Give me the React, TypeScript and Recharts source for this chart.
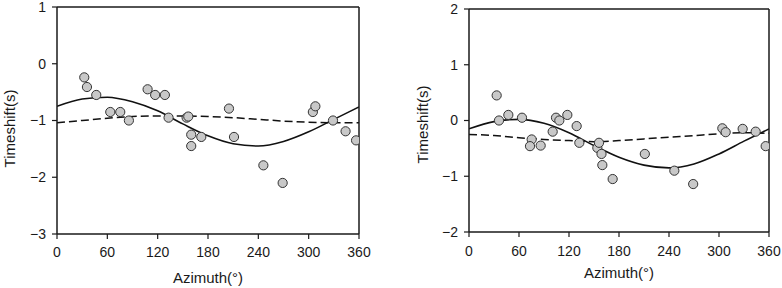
import React from 'react';
import { ComposedChart, Line, Scatter, XAxis, YAxis } from 'recharts';

// azimuth (deg) / timeshift (s) readings
const leftAz = [32.5, 35.7, 46.8, 63.5, 75.4, 85.7, 108, 117, 128.6, 133, 154.5, 156.5, 160, 160, 172, 205, 211, 246, 269, 305, 308, 329, 344, 356.5];
const leftShift = [-0.24, -0.41, -0.55, -0.85, -0.85, -1.0, -0.45, -0.55, -0.55, -0.95, -0.95, -0.93, -1.25, -1.45, -1.29, -0.79, -1.29, -1.79, -2.1, -0.85, -0.75, -1.0, -1.19, -1.35];

const rightAz = [33.2, 36, 47.2, 63.6, 75.2, 73.2, 86, 100.4, 104.4, 108.4, 118, 129.2, 132.4, 154, 156, 159, 160, 172.4, 211, 246.4, 269, 304, 308, 328.4, 344, 356];
const rightShift = [0.45, 0, 0.1, 0.05, -0.34, -0.46, -0.45, -0.2, 0.05, 0, 0.1, -0.1, -0.4, -0.49, -0.4, -0.6, -0.8, -1.05, -0.6, -0.9, -1.14, -0.14, -0.21, -0.15, -0.2, -0.46];

// fitted curves, read every 30 deg
const curveAz = [0, 30, 60, 90, 120, 150, 180, 210, 240, 270, 300, 330, 360];
const leftFit = [-0.75, -0.62, -0.59, -0.67, -0.83, -1.06, -1.27, -1.41, -1.45, -1.37, -1.2, -0.98, -0.76];
const leftFlat = [-1.04, -1.0, -0.96, -0.93, -0.92, -0.92, -0.93, -0.95, -0.98, -1.01, -1.03, -1.04, -1.04];
const rightFit = [-0.15, -0.02, 0.02, -0.05, -0.22, -0.45, -0.66, -0.8, -0.85, -0.78, -0.6, -0.37, -0.15];
const rightFlat = [-0.25, -0.27, -0.31, -0.34, -0.36, -0.38, -0.36, -0.33, -0.3, -0.27, -0.24, -0.22, -0.23];

const azTicks = [0, 60, 120, 180, 240, 300, 360];
const leftTicks = [-3, -2, -1, 0, 1];
const rightTicks = [-2, -1, 0, 1, 2];

const zip = (xs: number[], ys: number[]) => xs.map((az, i) => ({ az, v: ys[i] }));
const minus = (v: number) => String(v).replace('-', '\u2212');

const FONT = '"Liberation Sans", Arial, Helvetica, sans-serif';
const INK = '#1a1a1a';

const Dot = (p: any) => (
  <circle cx={p.cx} cy={p.cy} r={4.6} fill="#c8c8c8" stroke="#333" strokeWidth={1} />
);

interface PanelProps {
  pts: { az: number; v: number }[];
  fit: { az: number; v: number }[];
  flat: { az: number; v: number }[];
  domain: [number, number];
  ticks: number[];
  width: number;
  top: number;
  bottom: number;
  leftW: number;
  right: number;
  yLabelX: number;
  yLabelDy: number;
  xLabelY: number;
  xTickMargin: number;
}

const Panel: React.FC<PanelProps> = (p) => {
  const axisCommon = {
    axisLine: { stroke: INK, strokeWidth: 1.5 },
    tickLine: { stroke: INK, strokeWidth: 1.2 },
    tickSize: 5,
  };
  const tickStyle = { fontSize: 14, fill: INK, fontFamily: FONT };
  return (
    <ComposedChart width={p.width} height={288} margin={{ top: 0, right: p.right, bottom: 0, left: 0 }}>
      <XAxis
        xAxisId="b"
        dataKey="az"
        type="number"
        domain={[0, 360]}
        ticks={azTicks}
        allowDataOverflow
        height={288 - p.bottom}
        tickMargin={p.xTickMargin}
        tick={tickStyle}
        interval={0}
        {...axisCommon}
        label={{
          content: (lp: any) => (
            <text
              x={lp.viewBox.x + lp.viewBox.width / 2}
              y={p.xLabelY}
              textAnchor="middle"
              dominantBaseline="central"
              fontSize={15}
              fill={INK}
              fontFamily={FONT}
            >
              Azimuth(°)
            </text>
          ),
        }}
      />
      <XAxis
        xAxisId="t"
        orientation="top"
        dataKey="az"
        type="number"
        domain={[0, 360]}
        ticks={azTicks}
        allowDataOverflow
        height={p.top}
        tick={false}
        {...axisCommon}
      />
      <YAxis
        yAxisId="l"
        type="number"
        domain={p.domain}
        ticks={p.ticks}
        allowDataOverflow
        width={p.leftW}
        tickMargin={6}
        tick={tickStyle}
        tickFormatter={minus}
        interval={0}
        {...axisCommon}
        label={{
          content: (lp: any) => {
            const cx = p.yLabelX;
            const cy = lp.viewBox.y + lp.viewBox.height / 2 + p.yLabelDy;
            return (
              <text
                x={cx}
                y={cy}
                transform={`rotate(-90 ${cx} ${cy})`}
                textAnchor="middle"
                dominantBaseline="central"
                fontSize={15}
                fill={INK}
                fontFamily={FONT}
              >
                Timeshift(s)
              </text>
            );
          },
        }}
      />
      <YAxis
        yAxisId="r"
        orientation="right"
        type="number"
        domain={p.domain}
        ticks={p.ticks}
        allowDataOverflow
        width={10}
        tick={false}
        {...axisCommon}
      />
      <Line
        xAxisId="b"
        yAxisId="l"
        data={p.fit}
        dataKey="v"
        type="monotone"
        dot={false}
        stroke="#111"
        strokeWidth={1.6}
        isAnimationActive={false}
      />
      <Line
        xAxisId="t"
        yAxisId="r"
        data={p.flat}
        dataKey="v"
        type="monotone"
        dot={false}
        stroke="#111"
        strokeWidth={1.5}
        strokeDasharray="8 4"
        isAnimationActive={false}
      />
      <Scatter
        xAxisId="b"
        yAxisId="l"
        data={p.pts}
        dataKey="v"
        shape={Dot}
        isAnimationActive={false}
      />
    </ComposedChart>
  );
};

export default function App() {
  return (
    <div style={{ position: 'absolute', left: 0, top: 0, width: 782, height: 288, background: '#fff' }}>
      <div style={{ position: 'absolute', left: 0, top: 0 }}>
        <Panel
          pts={zip(leftAz, leftShift)}
          fit={zip(curveAz, leftFit)}
          flat={zip(curveAz, leftFlat)}
          domain={[-3, 1]}
          ticks={leftTicks}
          width={390}
          top={7}
          bottom={234}
          leftW={57}
          right={21}
          yLabelX={9}
          yLabelDy={8}
          xLabelY={277}
          xTickMargin={8}
        />
      </div>
      <div style={{ position: 'absolute', left: 390, top: 0 }}>
        <Panel
          pts={zip(rightAz, rightShift)}
          fit={zip(curveAz, rightFit)}
          flat={zip(curveAz, rightFlat)}
          domain={[-2, 2]}
          ticks={rightTicks}
          width={392}
          top={9}
          bottom={232}
          leftW={79}
          right={3}
          yLabelX={32}
          yLabelDy={4}
          xLabelY={272}
          xTickMargin={9}
        />
      </div>
    </div>
  );
}
